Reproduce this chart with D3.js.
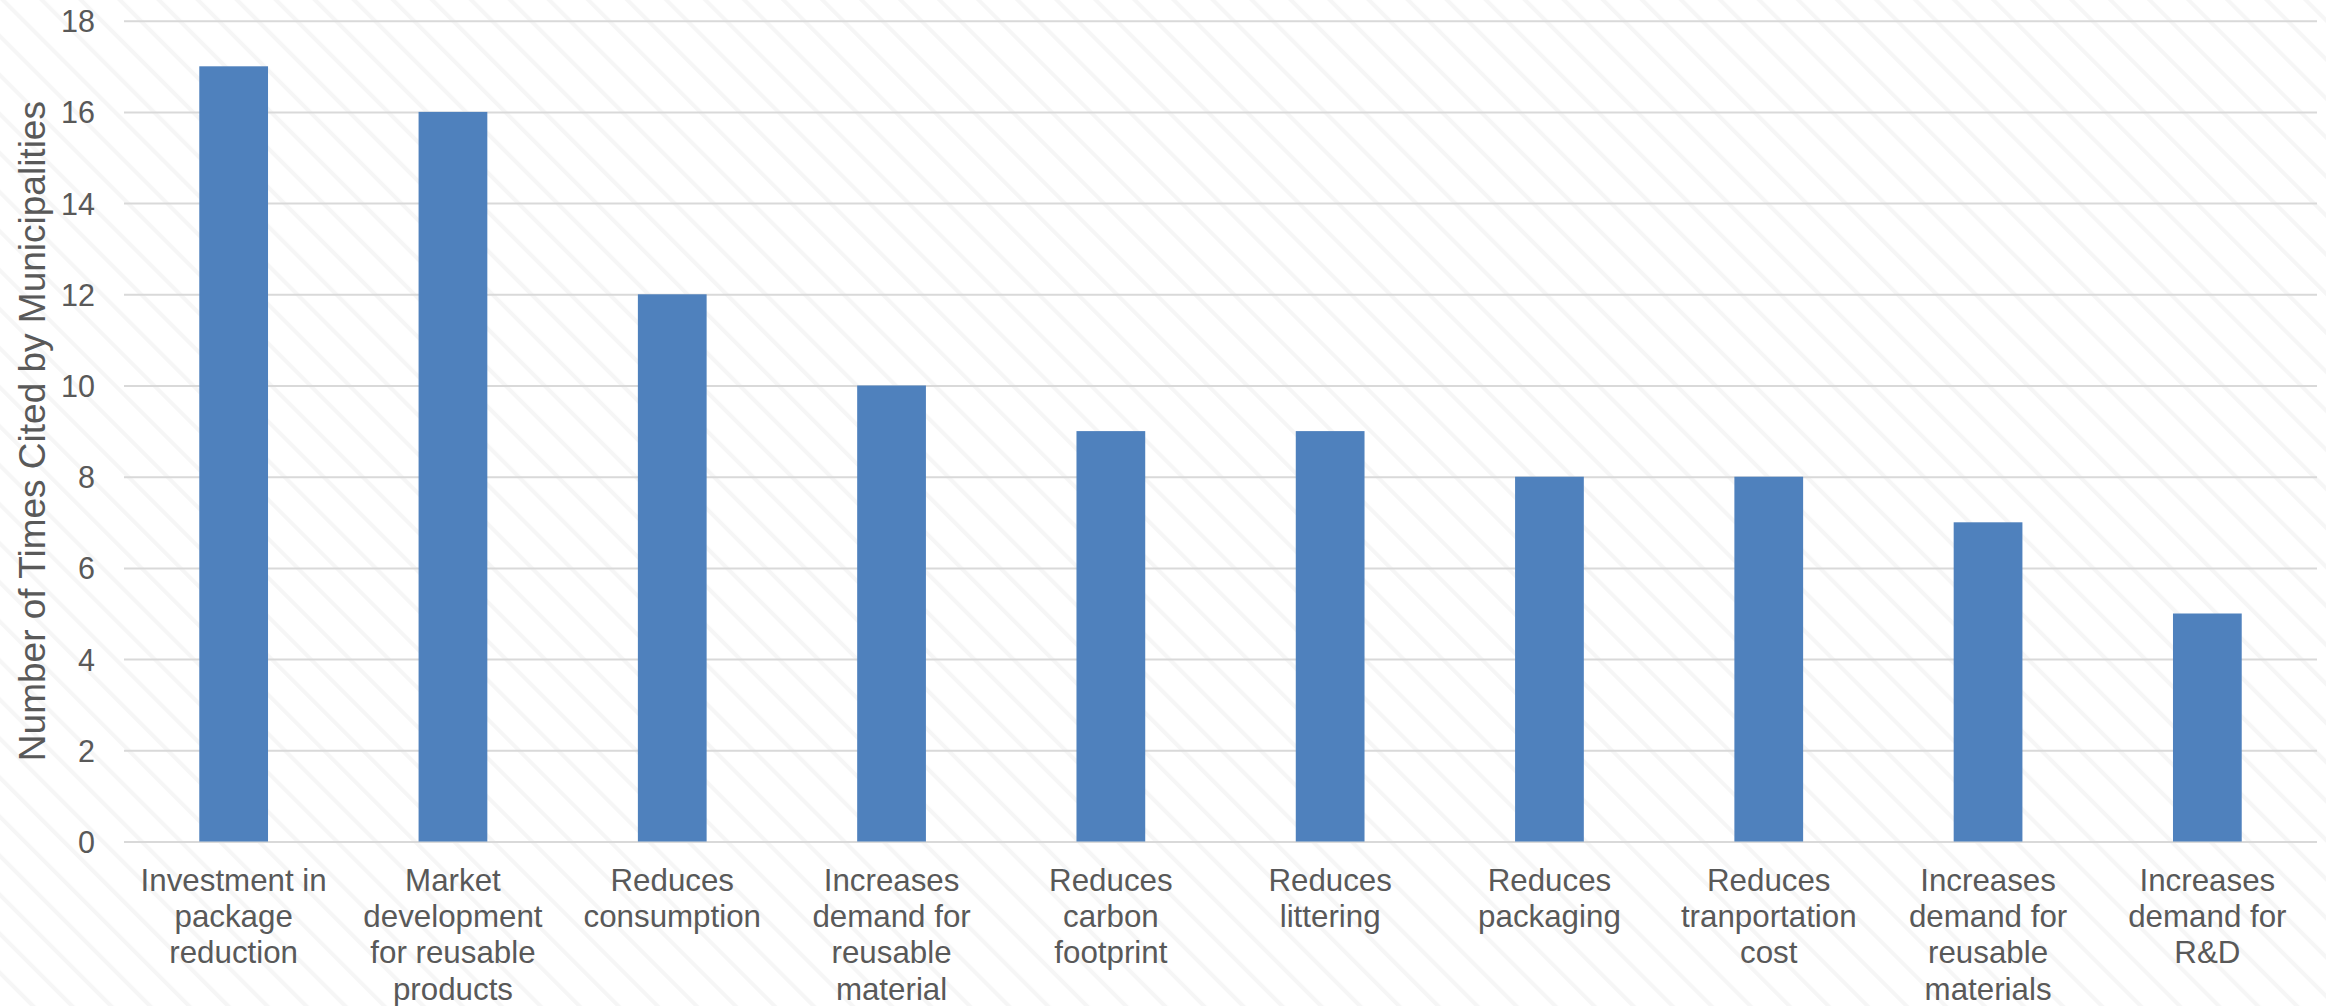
<!DOCTYPE html>
<html>
<head>
<meta charset="utf-8">
<script src="https://cdn.jsdelivr.net/npm/d3@7"></script>
<style>
  html, body { margin: 0; padding: 0; background: #ffffff; }
  svg { display: block; }
  text { font-family: "Liberation Sans", Arial, sans-serif; fill: #595959; }
</style>
</head>
<body>
<svg id="chart" width="2326" height="1006"></svg>
<script>
const categories = [
  "Investment in\npackage\nreduction",
  "Market\ndevelopment\nfor reusable\nproducts",
  "Reduces\nconsumption",
  "Increases\ndemand for\nreusable\nmaterial",
  "Reduces\ncarbon\nfootprint",
  "Reduces\nlittering",
  "Reduces\npackaging",
  "Reduces\ntranportation\ncost",
  "Increases\ndemand for\nreusable\nmaterials",
  "Increases\ndemand for\nR&D"
];
const values = [17, 16, 12, 10, 9, 9, 8, 8, 7, 5];
const yTicks = [0, 2, 4, 6, 8, 10, 12, 14, 16, 18];
const yTitle = "Number of Times Cited by Municipalities";

(function () {
const W = 2326, H = 1006;
const pLeft = 124, pRight = 2317, pTop = 20.7, pBottom = 841.5;

const svg = d3.select("#chart");

// background diagonal stripes
const defs = svg.append("defs");
const pat = defs.append("pattern")
  .attr("id", "stripes")
  .attr("patternUnits", "userSpaceOnUse")
  .attr("width", 27.6).attr("height", 27.6)
  .attr("patternTransform", "rotate(-45)");
pat.append("rect").attr("width", 27.6).attr("height", 27.6).attr("fill", "#ffffff");
pat.append("line").attr("x1", 2).attr("y1", 0).attr("x2", 2).attr("y2", 27.6)
  .attr("stroke", "#f6f6f6").attr("stroke-width", 4);
svg.append("rect").attr("width", W).attr("height", H).attr("fill", "url(#stripes)");

const x = d3.scaleBand().domain(categories).range([pLeft, pRight]).padding(0);
const y = d3.scaleLinear().domain([0, 18]).range([pBottom, pTop]);

// gridlines + y tick labels
const yAxis = svg.append("g")
  .attr("transform", `translate(${pLeft},0)`)
  .call(d3.axisLeft(y).tickValues(yTicks).tickSize(-(pRight - pLeft)).tickPadding(29).tickFormat(d3.format("d")));
yAxis.select(".domain").remove();
yAxis.selectAll(".tick line").attr("stroke", "#d9d9d9").attr("stroke-width", 2);
yAxis.selectAll(".tick text")
  .style("font-family", "'Liberation Sans', Arial, sans-serif")
  .style("font-size", "30.5px").attr("fill", "#595959").attr("dy", "0.36em");

// bars
const barW = x.bandwidth() / 3.19;
svg.append("g").selectAll("rect").data(values).join("rect")
  .attr("x", (d, i) => x(categories[i]) + x.bandwidth() / 2 - barW / 2)
  .attr("y", d => y(d))
  .attr("width", barW)
  .attr("height", d => y(0) - y(d))
  .attr("fill", "#4f81bd");

// x category labels
const lbl = svg.append("g").selectAll("text").data(categories).join("text")
  .attr("text-anchor", "middle")
  .style("font-size", "31.3px")
  .attr("transform", d => `translate(${x(d) + x.bandwidth() / 2},${pBottom + 49.2})`);
lbl.each(function(d) {
  const t = d3.select(this);
  d.split("\n").forEach((line, k) => {
    t.append("tspan").attr("x", 0).attr("y", k * 36.3).text(line);
  });
});

// y title
svg.append("text")
  .attr("text-anchor", "middle")
  .style("font-size", "37px")
  .attr("transform", `translate(45,${(pTop + pBottom) / 2}) rotate(-90)`)
  .text(yTitle);
})();
</script>
</body>
</html>
